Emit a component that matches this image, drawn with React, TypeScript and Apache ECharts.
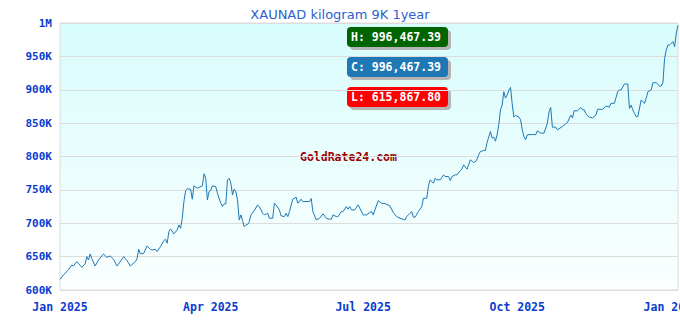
import React, { useEffect, useRef } from "react";
import * as echarts from "echarts";

const TITLE = "XAUNAD kilogram 9K 1year";
const WATERMARK = "GoldRate24.com";
const START_DATE = "2025-01-01";
const X_TICK_DATES = ["2025-01-01", "2025-04-01", "2025-07-01", "2025-10-01", "2026-01-01"];
const MONTHS = ["Jan", "Feb", "Mar", "Apr", "May", "Jun", "Jul", "Aug", "Sep", "Oct", "Nov", "Dec"];
const Y_MIN = 600000;
const Y_MAX = 1000000;
const Y_STEP = 50000;

// [day offset from START_DATE, price]
const q1: [number, number][] = [
  [0, 615867.8], [2, 622500], [5, 630000], [7, 637500], [8, 636000], [10, 642500], [12, 637000], [13, 634000],
  [15, 639000], [16, 650000], [17, 645000], [18, 654000], [19, 647000], [21, 636000], [23, 645000], [26, 654000],
  [28, 649000], [30, 651000], [32, 646000], [34, 636000], [35, 639000], [38, 650000], [40, 644000], [42, 636000],
  [45, 642500], [46, 647000], [47, 661000], [48, 654000], [50, 655000], [52, 666000], [54, 661000], [55, 660000],
  [57, 661000], [58, 657500], [60, 665000], [62, 674000], [63, 676000], [64, 670000], [65, 687500], [66, 691500],
  [68, 684000], [70, 690000], [71, 697500], [72, 692500], [73, 707500], [74, 732500], [75, 749000], [76, 751500],
  [78, 751000], [79, 736000], [80, 756000], [82, 752500], [85, 756000], [86, 774000], [87, 767500], [88, 735000],
  [89, 747500],
];
const q2: [number, number][] = [
  [90, 749000], [91, 756000], [93, 755000], [94, 745000], [96, 730000], [97, 725000], [98, 729000], [99, 729000],
  [100, 765000], [101, 767500], [102, 760000], [103, 742500], [104, 751000], [105, 747500], [106, 735000],
  [107, 705000], [108, 712500], [109, 704000], [110, 695000], [111, 697500], [112, 698000], [113, 702000],
  [114, 712500], [116, 719000], [118, 727500], [119, 725000], [121, 715000], [122, 712500], [124, 715000],
  [125, 707500], [127, 707500], [128, 730000], [129, 727500], [131, 720000], [132, 711000], [134, 710000],
  [135, 715000], [136, 710000], [137, 717500], [139, 736000], [141, 739000], [142, 730000], [144, 736000],
  [145, 732500], [149, 732500], [150, 737000], [151, 717500], [153, 705000], [155, 707500], [157, 714000],
  [159, 707500], [161, 706000], [162, 706000], [163, 712500], [165, 710000], [166, 710000], [168, 717500],
  [169, 717500], [171, 725000], [172, 721000], [173, 725000], [174, 720000], [176, 720000], [178, 727500],
  [179, 722500],
];
const q3: [number, number][] = [
  [181, 712500], [183, 712500], [185, 716000], [186, 717500], [187, 712500], [190, 734000], [192, 730000],
  [194, 729500], [197, 726000], [199, 716000], [201, 710000], [203, 707500], [206, 705000], [207, 710000],
  [208, 712500], [210, 717500], [211, 709000], [212, 709000], [214, 717500], [216, 725000], [217, 737500],
  [219, 737500], [220, 756000], [221, 765000], [223, 760000], [224, 767500], [225, 765000], [227, 765000],
  [229, 772500], [230, 770000], [232, 770000], [233, 764000], [234, 770000], [236, 772500], [237, 772500],
  [239, 779000], [240, 781000], [241, 787500], [243, 781000], [244, 787500], [245, 795000], [247, 791000],
  [248, 792000], [249, 796000], [250, 802500], [251, 807500], [253, 809000], [254, 809000], [255, 821000],
  [257, 837500], [258, 827500], [259, 829000], [260, 823000], [261, 832500], [262, 847500], [263, 870000],
  [264, 877000], [265, 897000], [266, 887500], [267, 892000], [268, 899000], [269, 903500], [270, 879000],
  [271, 859000], [272, 861500],
];
const q4: [number, number][] = [
  [274, 859000], [275, 855000], [276, 840000], [277, 830000], [278, 825000], [279, 832500], [282, 833000],
  [284, 832500], [285, 838500], [287, 835000], [289, 835000], [291, 850000], [292, 867000], [293, 873500],
  [294, 844000], [296, 844000], [297, 840000], [300, 845000], [302, 849000], [303, 851000], [305, 862000],
  [306, 858000], [307, 868500], [309, 868500], [311, 873500], [312, 870000], [313, 870000], [314, 864000],
  [316, 859000], [318, 858000], [320, 862000], [321, 870700], [324, 870700], [326, 875700], [328, 874000],
  [329, 879700], [331, 879700], [333, 897000], [334, 899700], [335, 899700], [337, 908600], [339, 908600],
  [340, 872000], [341, 877000], [342, 870000], [343, 864700], [344, 859700], [345, 859700], [347, 884700],
  [348, 882000], [349, 879700], [350, 887000], [351, 897000], [353, 899700], [354, 910600], [355, 910600],
  [356, 910600], [358, 905600], [359, 905600], [360, 910600], [361, 947000], [362, 959600], [363, 967000],
  [364, 967000], [366, 972000], [367, 964600], [368, 985000], [369, 996467.39],
];

const DAY_MS = 86400000;
const toTs = (s: string) => {
  const [y, m, d] = s.split("-").map(Number);
  return Date.UTC(y, m - 1, d);
};

export default function App() {
  const ref = useRef<HTMLDivElement>(null);
  useEffect(() => {
    if (!ref.current) return;
    const chart = echarts.init(ref.current, undefined, { renderer: "svg" });
    const base = toTs(START_DATE);
    const all = [...q1, ...q2, ...q3, ...q4];
    const data = all.map(([d, v]) => [base + d * DAY_MS, v]);
    const values = all.map((p) => p[1]);
    const hi = Math.max(...values);
    const lo = Math.min(...values);
    const cl = values[values.length - 1];
    const fmt = (v: number) =>
      v.toLocaleString("en-US", { minimumFractionDigits: 2, maximumFractionDigits: 2 });
    const mono = "'DejaVu Sans Mono', 'Liberation Mono', monospace";
    const badge = (label: string, val: number, color: string, y: number) => ({
      type: "group",
      left: 347,
      top: y,
      children: [
        { type: "rect", shape: { x: 3, y: 3, width: 101, height: 20, r: 4 }, style: { fill: "#b4b4b4" } },
        { type: "rect", shape: { x: 0, y: 0, width: 101, height: 20, r: 4 }, style: { fill: color } },
        {
          type: "text",
          x: 4,
          y: 10,
          style: {
            text: `${label}: ${fmt(val)}`,
            fill: "#ffffff",
            font: `bold 11.5px ${mono}`,
            verticalAlign: "middle",
            align: "left",
          },
        },
      ],
    });
    chart.setOption({
      animation: false,
      backgroundColor: "#ffffff",
      title: {
        text: TITLE,
        left: "center",
        top: 3,
        textStyle: { fontFamily: "'DejaVu Sans', sans-serif", fontSize: 13, fontWeight: "normal", color: "#2f5fd0" },
      },
      grid: {
        left: 60,
        right: 2,
        top: 23,
        bottom: 30,
        containLabel: false,
        outerBoundsMode: "none",
        show: true,
        borderColor: "#dcdcdc",
        borderWidth: 1,
        backgroundColor: new echarts.graphic.LinearGradient(0, 0, 0, 1, [
          { offset: 0, color: "#d8fcfc" },
          { offset: 1, color: "#fbffff" },
        ]),
      },
      xAxis: {
        type: "value",
        min: base,
        max: data[data.length - 1][0],
        axisLine: { show: false },
        axisTick: { show: false },
        splitLine: { show: false },
        axisLabel: {
          customValues: X_TICK_DATES.map(toTs),
          margin: 11,
          color: "#0a3ccf",
          fontFamily: mono,
          fontWeight: "bold",
          fontSize: 11.5,
          formatter: (v: number) => {
            const d = new Date(v);
            return `${MONTHS[d.getUTCMonth()]} ${d.getUTCFullYear()}`;
          },
        },
      },
      yAxis: {
        type: "value",
        min: Y_MIN,
        max: Y_MAX,
        interval: Y_STEP,
        axisLine: { show: false },
        axisTick: { show: false },
        splitLine: { lineStyle: { color: "#dcdcdc", width: 1 } },
        axisLabel: {
          margin: 8,
          color: "#0a3ccf",
          fontFamily: mono,
          fontWeight: "bold",
          fontSize: 11,
          formatter: (v: number) => (v >= 1000000 ? `${v / 1000000}M` : `${v / 1000}K`),
        },
      },
      series: [
        {
          type: "line",
          data,
          showSymbol: false,
          symbol: "none",
          lineStyle: { color: "#1f77b4", width: 1 },
        },
      ],
      graphic: [
        {
          type: "text",
          left: 300,
          top: 151,
          style: { text: WATERMARK, fill: "#990000", font: `bold 11.5px ${mono}` },
        },
        badge("H", hi, "#006400", 27),
        badge("C", cl, "#1f77b4", 57),
        badge("L", lo, "#ff0000", 87),
      ],
    });
    return () => chart.dispose();
  }, []);
  return <div ref={ref} style={{ position: "absolute", left: 0, top: 0, width: 680, height: 320 }} />;
}
